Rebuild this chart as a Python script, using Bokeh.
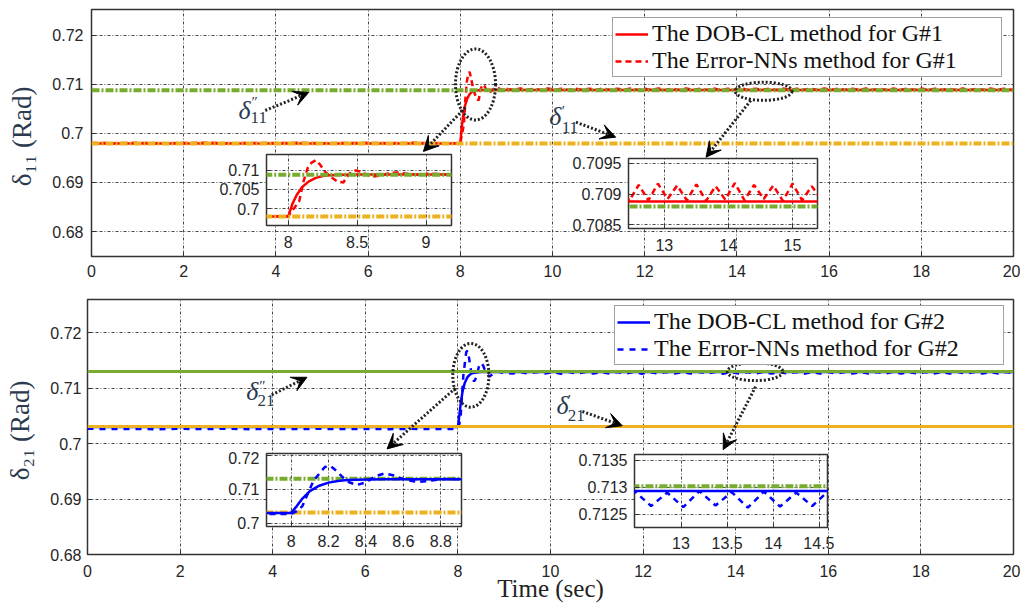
from bokeh.plotting import figure
from bokeh.layouts import column
from bokeh.models import (Range1d, Legend, LegendItem, Arrow, VeeHead, Label,
                          CustomJSTickFormatter, FixedTicker)
from bokeh.embed import file_html
from bokeh.resources import INLINE

RED = "#FF0000"; BLUE = "#0000FF"; GREEN = "#77AC30"; ORANGE = "#EDB120"
TXT = "#2b3a4f"; GRIDC = "#333333"

# ---------------- data ----------------
time_span = [0.0, 20.0]
delta11_p = 0.69795      # delta'_11
delta11_pp = 0.70880     # delta''_11
delta21_p = 0.70310      # delta'_21
delta21_pp = 0.71302     # delta''_21

dob1 = [(0.0, 0.69795), (8.0, 0.69795), (8.03, 0.7012), (8.06, 0.7035), (8.1, 0.7056),
        (8.15, 0.7071), (8.2, 0.7080), (8.25, 0.7085), (8.3, 0.7087), (8.4, 0.70882),
        (8.5, 0.70886), (8.7, 0.70888), (9.0, 0.70888), (20.0, 0.70888)]

err1 = [(0.0, 0.69808), (0.5, 0.69802), (1.0, 0.69810), (1.5, 0.69800), (2.0, 0.69806),
        (2.5, 0.69812), (3.0, 0.69801), (3.5, 0.69807), (4.0, 0.69803), (4.5, 0.69811),
        (5.0, 0.69800), (5.5, 0.69806), (6.0, 0.69809), (6.5, 0.69802), (7.0, 0.69810),
        (7.5, 0.69804), (8.0, 0.69800), (8.04, 0.70000), (8.08, 0.70200), (8.11, 0.70700),
        (8.14, 0.71050), (8.17, 0.71200), (8.20, 0.71260), (8.23, 0.71150), (8.27, 0.70950),
        (8.31, 0.70820), (8.36, 0.70700), (8.40, 0.70680), (8.44, 0.70900), (8.48, 0.71000),
        (8.53, 0.70960), (8.60, 0.70830), (8.67, 0.70860), (8.74, 0.70930), (8.80, 0.70940),
        (8.88, 0.70900), (8.95, 0.70880), (9.02, 0.70910),
        (9.15, 0.70890), (9.30, 0.70916), (9.45, 0.70891), (9.60, 0.70914), (9.75, 0.70889),
        (9.90, 0.70918), (10.05, 0.70892), (10.20, 0.70913), (10.35, 0.70890), (10.50, 0.70917),
        (10.65, 0.70891), (10.80, 0.70915), (10.95, 0.70889), (11.10, 0.70919), (11.25, 0.70890),
        (11.40, 0.70914), (11.55, 0.70892), (11.70, 0.70916), (11.85, 0.70890), (12.00, 0.70913),
        (12.15, 0.70891), (12.30, 0.70918), (12.45, 0.70889), (12.60, 0.70915), (12.75, 0.70890),
        (12.90, 0.70917), (13.05, 0.70892), (13.20, 0.70914), (13.35, 0.70890), (13.50, 0.70916),
        (13.65, 0.70889), (13.80, 0.70913), (13.95, 0.70891), (14.10, 0.70918), (14.25, 0.70890),
        (14.40, 0.70915), (14.55, 0.70892), (14.70, 0.70914), (14.85, 0.70889), (15.00, 0.70917),
        (15.15, 0.70890), (15.30, 0.70913), (15.45, 0.70891), (15.60, 0.70916), (15.75, 0.70890),
        (15.90, 0.70918), (16.05, 0.70889), (16.20, 0.70914), (16.35, 0.70892), (16.50, 0.70915),
        (16.65, 0.70890), (16.80, 0.70917), (16.95, 0.70891), (17.10, 0.70913), (17.25, 0.70889),
        (17.40, 0.70916), (17.55, 0.70890), (17.70, 0.70914), (17.85, 0.70892), (18.00, 0.70918),
        (18.15, 0.70890), (18.30, 0.70915), (18.45, 0.70891), (18.60, 0.70913), (18.75, 0.70889),
        (18.90, 0.70917), (19.05, 0.70890), (19.20, 0.70914), (19.35, 0.70892), (19.50, 0.70916),
        (19.65, 0.70890), (19.80, 0.70915), (19.95, 0.70891), (20.0, 0.70900)]

dob2 = [(0.0, 0.70300), (8.0, 0.70300), (8.03, 0.7050), (8.06, 0.7072), (8.1, 0.7094),
        (8.15, 0.7110), (8.2, 0.7119), (8.25, 0.7124), (8.3, 0.7127), (8.4, 0.71285),
        (8.5, 0.71290), (8.7, 0.71292), (9.0, 0.71293), (20.0, 0.71293)]

err2 = [(0.0, 0.70268), (0.5, 0.70262), (1.0, 0.70266), (1.5, 0.70260), (2.0, 0.70267),
        (2.5, 0.70263), (3.0, 0.70269), (3.5, 0.70261), (4.0, 0.70265), (4.5, 0.70262),
        (5.0, 0.70268), (5.5, 0.70263), (6.0, 0.70266), (6.5, 0.70261), (7.0, 0.70267),
        (7.5, 0.70263), (8.0, 0.70265), (8.03, 0.70350), (8.06, 0.70500), (8.09, 0.70880),
        (8.12, 0.71250), (8.15, 0.71450), (8.18, 0.71650), (8.21, 0.71680), (8.24, 0.71550),
        (8.27, 0.71380), (8.31, 0.71200), (8.35, 0.71120), (8.40, 0.71200), (8.45, 0.71380),
        (8.50, 0.71460), (8.55, 0.71400), (8.61, 0.71270), (8.68, 0.71210), (8.75, 0.71250),
        (8.82, 0.71300), (8.90, 0.71290), (9.00, 0.71275),
        (9.175, 0.71265), (9.35, 0.71291), (9.525, 0.71263), (9.70, 0.71292), (9.875, 0.71266),
        (10.05, 0.71290), (10.225, 0.71262), (10.40, 0.71293), (10.575, 0.71264), (10.75, 0.71291),
        (10.925, 0.71265), (11.10, 0.71292), (11.275, 0.71263), (11.45, 0.71290), (11.625, 0.71266),
        (11.80, 0.71293), (11.975, 0.71262), (12.15, 0.71291), (12.325, 0.71264), (12.50, 0.71292),
        (12.675, 0.71265), (12.85, 0.71290), (13.025, 0.71263), (13.20, 0.71293), (13.375, 0.71266),
        (13.55, 0.71291), (13.725, 0.71262), (13.90, 0.71292), (14.075, 0.71264), (14.25, 0.71290),
        (14.425, 0.71265), (14.60, 0.71293), (14.775, 0.71263), (14.95, 0.71291), (15.125, 0.71266),
        (15.30, 0.71292), (15.475, 0.71262), (15.65, 0.71290), (15.825, 0.71264), (16.00, 0.71293),
        (16.175, 0.71265), (16.35, 0.71291), (16.525, 0.71263), (16.70, 0.71292), (16.875, 0.71266),
        (17.05, 0.71290), (17.225, 0.71262), (17.40, 0.71293), (17.575, 0.71264), (17.75, 0.71291),
        (17.925, 0.71265), (18.10, 0.71292), (18.275, 0.71263), (18.45, 0.71290), (18.625, 0.71266),
        (18.80, 0.71293), (18.975, 0.71262), (19.15, 0.71291), (19.325, 0.71264), (19.50, 0.71292),
        (19.675, 0.71265), (19.85, 0.71290), (20.0, 0.71270)]

main_xticks = [0, 2, 4, 6, 8, 10, 12, 14, 16, 18, 20]
main_yticks = [0.68, 0.69, 0.70, 0.71, 0.72]

# insets: (x range, y range, x ticks, y ticks)
in1 = dict(xr=(7.842, 9.185), yr=(0.6956, 0.7141), xt=[8, 8.5, 9], yt=[0.70, 0.705, 0.71])
in2 = dict(xr=(12.44, 15.39), yr=(0.70844, 0.70958), xt=[13, 14, 15], yt=[0.7085, 0.709, 0.7095])
in3 = dict(xr=(7.868, 8.911), yr=(0.6990, 0.72047), xt=[8, 8.2, 8.4, 8.6, 8.8], yt=[0.70, 0.71, 0.72])
in4 = dict(xr=(12.495, 14.59), yr=(0.71225, 0.71361), xt=[13, 13.5, 14, 14.5], yt=[0.7125, 0.713, 0.7135])

def xs(pairs): return [a for a, b in pairs]
def ys(pairs): return [b for a, b in pairs]

FMT = "return String(Number(tick.toFixed(6)));"
TICKFONT = "Liberation Sans"
SERIF = "Liberation Serif"
LB = 91   # left border shared by all plots in the column (aligned by the layout)
RB = 7

def style_axes(f, xt, yt, xstand, ystand):
    f.xaxis.ticker = FixedTicker(ticks=xt)
    f.yaxis.ticker = FixedTicker(ticks=yt)
    for ax in (f.xaxis[0], f.yaxis[0]):
        ax.formatter = CustomJSTickFormatter(code=FMT)
        ax.axis_line_color = None
        ax.major_tick_in = 5
        ax.major_tick_out = 0
        ax.major_tick_line_color = "#333333"
        ax.minor_tick_line_color = None
        ax.major_label_text_font = TICKFONT
        ax.major_label_text_font_size = "16px"
        ax.major_label_text_color = "#262626"
    f.xaxis.major_label_standoff = xstand
    f.yaxis.major_label_standoff = ystand
    for g in (f.xgrid[0], f.ygrid[0]):
        g.grid_line_color = GRIDC
        g.grid_line_dash = "3 2 1 2"
        g.grid_line_width = 1
        g.grid_line_alpha = 0.9

# ---------------- top panel ----------------
p1 = figure(width=1020, height=290, x_range=Range1d(0, 20), y_range=Range1d(0.6749, 0.7253),
            output_backend="svg", toolbar_location=None,
            min_border_left=LB, min_border_right=RB, min_border_top=9, min_border_bottom=34,
            background_fill_color="white", border_fill_color="white",
            outline_line_color="#333333", outline_line_width=1.5)
style_axes(p1, main_xticks, main_yticks, 8, 8)
p1.yaxis.axis_label = "δ₁₁  (Rad)"
p1.yaxis.axis_label_text_font = SERIF
p1.yaxis.axis_label_text_font_style = "normal"
p1.yaxis.axis_label_text_font_size = "27px"
p1.yaxis.axis_label_text_color = TXT
p1.yaxis.axis_label_standoff = 12

r_dob1 = p1.line(xs(dob1), ys(dob1), line_color=RED, line_width=2.5)
r_err1 = p1.line(xs(err1), ys(err1), line_color=RED, line_width=2.5, line_dash="6 4")
p1.line(time_span, [delta11_pp] * 2, line_color=GREEN, line_width=4, line_dash="8 2 2 2")
p1.line(time_span, [delta11_p] * 2, line_color=ORANGE, line_width=4, line_dash="8 2 2 2")

leg1 = Legend(items=[LegendItem(label="The DOB-CL method for G#1", renderers=[r_dob1]),
                     LegendItem(label="The Error-NNs method for G#1", renderers=[r_err1])],
              location=(521, 179))
p1.add_layout(leg1)

# ---------------- bottom panel (shifted 4px left so its frame starts at x=87) ----------------
p2 = figure(width=1024, height=316, x_range=Range1d(0, 20), y_range=Range1d(0.68, 0.726),
            output_backend="svg", toolbar_location=None,
            min_border_left=LB, min_border_right=RB, min_border_top=9, min_border_bottom=52,
            background_fill_color="white", border_fill_color="white",
            outline_line_color="#333333", outline_line_width=1.5,
            styles={"position": "relative", "left": "-4px"})
style_axes(p2, main_xticks, main_yticks, 10, 6)
p2.yaxis.axis_label = "δ₂₁  (Rad)"
p2.yaxis.axis_label_text_font = SERIF
p2.yaxis.axis_label_text_font_style = "normal"
p2.yaxis.axis_label_text_font_size = "27px"
p2.yaxis.axis_label_text_color = TXT
p2.yaxis.axis_label_standoff = 12
p2.xaxis.axis_label = "Time (sec)"
p2.xaxis.axis_label_text_font = SERIF
p2.xaxis.axis_label_text_font_style = "normal"
p2.xaxis.axis_label_text_font_size = "25px"
p2.xaxis.axis_label_text_color = "#222222"
p2.xaxis.axis_label_standoff = -5

r_dob2 = p2.line(xs(dob2), ys(dob2), line_color=BLUE, line_width=2.5)
r_err2 = p2.line(xs(err2), ys(err2), line_color=BLUE, line_width=2.5, line_dash="6 6")
p2.line(time_span, [delta21_pp] * 2, line_color=GREEN, line_width=3)
p2.line(time_span, [delta21_p] * 2, line_color=ORANGE, line_width=3)

leg2 = Legend(items=[LegendItem(label="The DOB-CL method for G#2", renderers=[r_dob2]),
                     LegendItem(label="The Error-NNs method for G#2", renderers=[r_err2])],
              location=(527, 189))
p2.add_layout(leg2)

for lg in (leg1, leg2):
    lg.label_text_font = SERIF
    lg.label_text_font_size = "24px"
    lg.label_text_color = "#111111"
    lg.glyph_width = 33
    lg.label_standoff = 4
    lg.label_width = 347
    lg.padding = 2
    lg.spacing = 0
    lg.margin = 0
    lg.border_line_color = "#444444"
    lg.border_line_width = 1
    lg.background_fill_color = "white"
    lg.background_fill_alpha = 1.0

# ---------------- annotations ----------------
def ellipses(f, cx, cy, w, h):
    f.ellipse(x=cx, y=cy, width=w, height=h, fill_color=None, line_color="#222222",
              line_width=3, line_dash="2 2")

def arrow(f, x0, y0, x1, y1):
    f.add_layout(Arrow(end=VeeHead(size=15, fill_color="black", line_color="black"),
                       x_start=x0, y_start=y0, x_end=x1, y_end=y1,
                       line_color="#222222", line_width=3, line_dash="2 2"))

def delta_label(f, main_xy, sub_xy, sup_xy, sub_text, sup_text):
    f.add_layout(Label(x=main_xy[0], y=main_xy[1], text="δ", text_font=SERIF,
                       text_font_style="italic", text_font_size="26px", text_color=TXT,
                       text_baseline="middle", text_align="left"))
    f.add_layout(Label(x=sub_xy[0], y=sub_xy[1], text=sub_text, text_font=SERIF,
                       text_font_size="17px", text_color=TXT,
                       text_baseline="middle", text_align="left"))
    f.add_layout(Label(x=sup_xy[0], y=sup_xy[1], text=sup_text, text_font=SERIF,
                       text_font_size="15px", text_color=TXT,
                       text_baseline="middle", text_align="left"))

ellipses(p1, [8.33, 14.58], [0.7100, 0.70861], [0.87, 1.23], [0.0145, 0.0037])
arrow(p1, 3.77, 0.70469, 4.71, 0.70837)
arrow(p1, 10.51, 0.70231, 11.37, 0.69924)
arrow(p1, 8.11, 0.70531, 7.20, 0.69633)
arrow(p1, 14.30, 0.70673, 13.33, 0.69516)
delta_label(p1, (3.19, 0.70469), (3.45, 0.70327), (3.47, 0.70633), "11", "″")
delta_label(p1, (9.93, 0.70347), (10.2, 0.70122), (10.2, 0.70469), "11", "′")

ellipses(p2, [8.28, 14.42], [0.71233, 0.71298], [0.78, 1.2], [0.0115, 0.00323])
arrow(p2, 3.98, 0.7088, 4.74, 0.71197)
arrow(p2, 10.69, 0.7058, 11.55, 0.70323)
arrow(p2, 7.945, 0.7100, 6.47, 0.69905)
arrow(p2, 14.43, 0.71029, 13.73, 0.69892)
delta_label(p2, (3.43, 0.70934), (3.67, 0.70772), (3.71, 0.71041), "21", "″")
delta_label(p2, (10.13, 0.70682), (10.37, 0.70503), (10.37, 0.7079), "21", "′")

# ---------------- insets ----------------
def make_inset(spec, fw, fh, bb, frame_left, frame_top, xstand):
    f = figure(width=LB + fw + RB, height=2 + fh + bb,
               x_range=Range1d(*spec["xr"]), y_range=Range1d(*spec["yr"]),
               output_backend="svg", toolbar_location=None,
               min_border_left=LB, min_border_right=RB, min_border_top=2, min_border_bottom=bb,
               border_fill_color=None, background_fill_color="white",
               outline_line_color="#333333", outline_line_width=1.5,
               styles={"position": "absolute", "left": f"{frame_left - LB}px",
                       "top": f"{frame_top - 2}px"})
    style_axes(f, spec["xt"], spec["yt"], xstand, 7)
    return f

i1 = make_inset(in1, 185, 71, 34, 266, 154, 10)
i2 = make_inset(in2, 189, 70, 34, 628, 158, 10)
i3 = make_inset(in3, 195, 73, 34, 266, 453, 8)
i4 = make_inset(in4, 193, 73, 34, 634, 454, 9)

for f in (i1, i2):
    f.line(xs(dob1), ys(dob1), line_color=RED, line_width=2.5)
    f.line(xs(err1), ys(err1), line_color=RED, line_width=2.5, line_dash="6 4")
    f.line(time_span, [delta11_pp] * 2, line_color=GREEN, line_width=4, line_dash="8 2 2 2")
    f.line(time_span, [delta11_p] * 2, line_color=ORANGE, line_width=4, line_dash="8 2 2 2")

for f in (i3, i4):
    f.line(time_span, [delta21_pp] * 2, line_color=GREEN, line_width=4, line_dash="8 2 2 2")
    f.line(time_span, [delta21_p] * 2, line_color=ORANGE, line_width=4, line_dash="8 2 2 2")
    f.line(xs(dob2), ys(dob2), line_color=BLUE, line_width=2.5)
    f.line(xs(err2), ys(err2), line_color=BLUE, line_width=2.5, line_dash="6 5")

root = column(p1, p2, i1, i2, i3, i4, spacing=0, styles={"position": "relative"})

open("out.html", "w").write(file_html(root, INLINE))
